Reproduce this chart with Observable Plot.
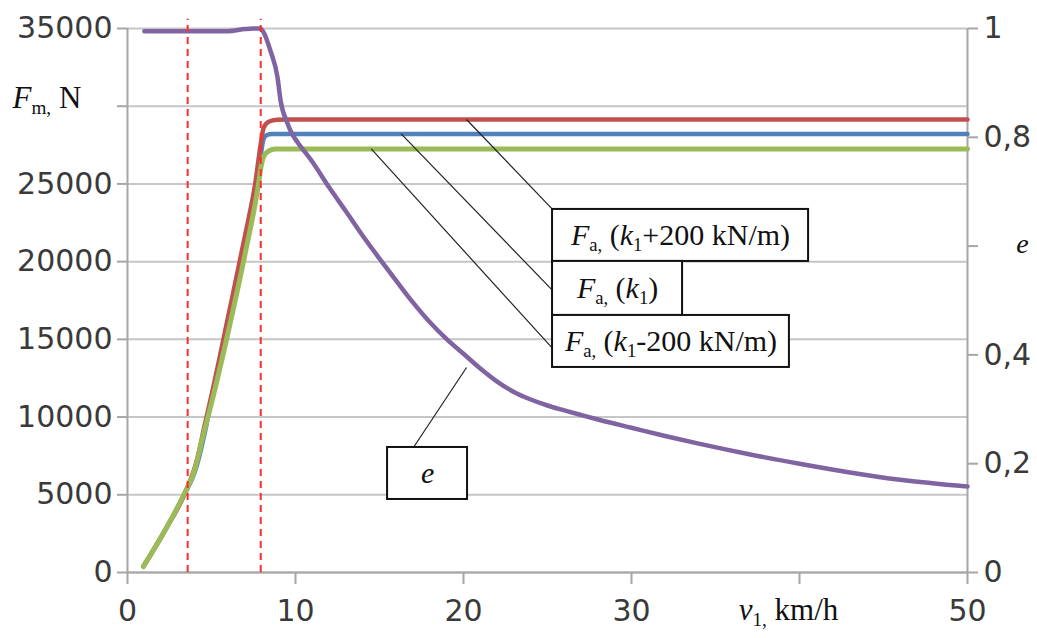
<!DOCTYPE html>
<html>
<head>
<meta charset="utf-8">
<script src="https://cdn.jsdelivr.net/npm/d3@7"></script>
<script src="https://cdn.jsdelivr.net/npm/@observablehq/plot@0.6"></script>
<style>
  html, body { margin: 0; padding: 0; background: #ffffff; }
  #chart svg { display: block; overflow: visible; }
</style>
</head>
<body>
<div id="chart"></div>
<script>
// ---------- data ----------
// Fa with k1 + 200 kN/m (red)
const speedRed = [0.95, 2.2, 3.4, 4.1, 4.6, 5.0, 6.0, 7.0, 7.6, 7.95, 8.1, 8.4, 8.9, 9.5, 50];
const forceRed = [400, 2650, 5050, 7100, 9500, 11400, 16500, 21700, 25000, 27700, 28600, 29000, 29130, 29144, 29144];
// Fa with k1 (blue)
const speedBlue = [0.95, 2.2, 3.37, 4.05, 4.55, 5.0, 6.0, 7.0, 7.7, 7.95, 8.1, 8.3, 8.6, 50];
const forceBlue = [390, 2650, 5000, 6600, 8750, 11150, 16000, 21100, 25050, 27000, 27900, 28150, 28217, 28217];
// Fa with k1 - 200 kN/m (green)
const speedGreen = [0.95, 2.2, 3.33, 4.0, 4.5, 5.0, 6.0, 7.0, 7.8, 7.95, 8.1, 8.4, 8.8, 9.4, 50];
const forceGreen = [386, 2650, 4955, 6600, 8800, 10900, 15500, 20500, 25000, 26100, 26750, 27120, 27240, 27252, 27252];
// e (purple, right axis)
const speedE = [1.0, 3, 6.0, 7.0, 7.5, 7.9, 8.1, 8.5, 8.93, 9.11, 9.52, 9.8, 10.1, 11, 12, 13, 14, 15, 16, 17, 18, 19, 20, 21, 22, 23, 24, 25, 26, 27, 28, 30, 32, 34, 37, 40, 43, 46, 50];
const valueE = [0.995, 0.995, 0.995, 0.999, 1.0, 1.0, 0.993, 0.96, 0.91, 0.868, 0.826, 0.806, 0.792, 0.755, 0.708, 0.664, 0.619, 0.577, 0.536, 0.496, 0.460, 0.429, 0.402, 0.375, 0.351, 0.332, 0.318, 0.307, 0.298, 0.2895, 0.2812, 0.266, 0.251, 0.237, 0.2175, 0.200, 0.184, 0.1705, 0.158];

// red dashed reference speeds
const dashedSpeeds = [3.58, 7.93];

// axes
const forceMax = 35000;
const eMax = 1;
const forceTicks = [0, 5000, 10000, 15000, 20000, 25000, 30000, 35000];
const forceTickLabels = ["0", "5000", "10000", "15000", "20000", "25000", "", "35000"];
const speedTicks = [0, 10, 20, 30, 40, 50];
const speedTickLabels = ["0", "10", "20", "30", "", "50"];
const eTicks = [0, 0.2, 0.4, 0.6, 0.8, 1];
const eTickLabels = ["0", "0,2", "0,4", "", "0,8", "1"];

// titles (markup: *italic*, _{subscript})
const leftTitle = "*F*_{m,} N";
const rightTitle = "*e*";
const bottomTitle = "*v*_{1,} km/h";

// annotation boxes and leader lines
const annoLabels = ["*F*_{a,} (*k*_{1}+200 kN/m)", "*F*_{a,} (*k*_{1})", "*F*_{a,} (*k*_{1}-200 kN/m)", "*e*"];
const annoBoxX1 = [25.3, 25.3, 25.3, 15.48];
const annoBoxX2 = [40.54, 33.04, 39.40, 20.24];
const annoBoxY1 = [20013, 16538, 13192, 4698];
const annoBoxY2 = [23359, 20013, 16538, 8044];
const leaderFromX = [20.18, 16.29, 14.51, 20.18];
const leaderFromY = [29144, 28217, 27252, 13192];
const leaderToX = [25.3, 25.3, 25.3, 17.02];
const leaderToY = [23359, 18147, 14414, 8044];

// ---------- tables ----------
const toRows = (xs, ys) => xs.map((x, i) => ({x, y: ys[i]}));
const redRows = toRows(speedRed, forceRed);
const blueRows = toRows(speedBlue, forceBlue);
const greenRows = toRows(speedGreen, forceGreen);
const eRows = speedE.map((x, i) => ({x, y: valueE[i] / eMax * forceMax}));
const annos = annoLabels.map((label, i) => ({
  label, x1: annoBoxX1[i], x2: annoBoxX2[i], y1: annoBoxY1[i], y2: annoBoxY2[i],
  fx: leaderFromX[i], fy: leaderFromY[i], tx: leaderToX[i], ty: leaderToY[i]
}));

const gridColor = "#c6c6c6";
const axisColor = "#a6a6a6";
const labelColor = "#3a3a3a";
const serif = "'Liberation Serif', 'Times New Roman', serif";
const sans = "'DejaVu Sans', sans-serif";

const chart = Plot.plot({
  width: 1037,
  height: 638,
  marginLeft: 127,
  marginRight: 70,
  marginTop: 28,
  marginBottom: 66,
  style: {background: "#ffffff", overflow: "visible"},
  x: {domain: [0, 50]},
  y: {domain: [0, forceMax]},
  marks: [
    Plot.gridY(forceTicks, {stroke: gridColor, strokeOpacity: 1, strokeWidth: 2}),
    Plot.ruleX([0, 50], {stroke: axisColor, strokeWidth: 2}),
    Plot.ruleY([0], {stroke: axisColor, strokeWidth: 2}),
    Plot.axisY(forceTicks, {
      anchor: "left", tickSize: 10, tickPadding: 5, label: null,
      tickFormat: d => forceTickLabels[forceTicks.indexOf(d)],
      stroke: axisColor, strokeWidth: 2, fill: labelColor, fontSize: 30, fontFamily: sans
    }),
    Plot.axisY(eTicks.map(e => e / eMax * forceMax), {
      anchor: "right", tickSize: 10, tickPadding: 6, label: null,
      tickFormat: d => eTickLabels[eTicks.findIndex(e => Math.abs(e / eMax * forceMax - d) < 1e-6)],
      stroke: axisColor, strokeWidth: 2, fill: labelColor, fontSize: 30, fontFamily: sans
    }),
    Plot.axisX(speedTicks, {
      anchor: "bottom", tickSize: 12, tickPadding: 15, label: null,
      tickFormat: d => speedTickLabels[speedTicks.indexOf(d)],
      stroke: axisColor, strokeWidth: 2, fill: labelColor, fontSize: 30, fontFamily: sans
    }),
    Plot.line(blueRows, {x: "x", y: "y", stroke: "#4f81bd", strokeWidth: 4.5, curve: "monotone-x"}),
    Plot.line(redRows, {x: "x", y: "y", stroke: "#c0504d", strokeWidth: 4.5, curve: "monotone-x"}),
    Plot.line(greenRows, {x: "x", y: "y", stroke: "#9bbb59", strokeWidth: 5, curve: "monotone-x"}),
    Plot.line(eRows, {x: "x", y: "y", stroke: "#8064a2", strokeWidth: 4.5, curve: "monotone-x"}),
    Plot.ruleX(dashedSpeeds, {y1: 0, y2: forceMax + 600, stroke: "#ff2a2a", strokeWidth: 2, strokeDasharray: "7,5"}),
    Plot.link(annos, {x1: "fx", y1: "fy", x2: "tx", y2: "ty", stroke: "#222222", strokeWidth: 1.2}),
    Plot.rect(annos, {x1: "x1", x2: "x2", y1: "y1", y2: "y2", fill: "#ffffff", stroke: "#111111", strokeWidth: 2}),
    Plot.text(annos, {x: d => (d.x1 + d.x2) / 2, y: d => (d.y1 + d.y2) / 2, text: "label",
      fontFamily: serif, fontSize: 30, fill: "#111111"}),
    Plot.text([leftTitle], {frameAnchor: "top-left", dx: -115, dy: 57, textAnchor: "start",
      fontFamily: serif, fontSize: 31, fill: "#111111"}),
    Plot.text([rightTitle], {frameAnchor: "top-right", dx: 55, dy: 205, textAnchor: "middle",
      fontFamily: serif, fontSize: 28, fill: "#111111"}),
    Plot.text([bottomTitle], {frameAnchor: "bottom-right", dx: -179, dy: 47, textAnchor: "middle",
      fontFamily: serif, fontSize: 31, fill: "#111111"})
  ]
});

document.getElementById("chart").append(chart);

// turn *italic* and _{sub} markup into tspans
function richify(root) {
  d3.select(root).selectAll("text").each(function() {
    const t = this.textContent;
    if (!/[*_]/.test(t)) return;
    const fs = parseFloat(getComputedStyle(this).fontSize) || 24;
    const el = d3.select(this);
    el.text(null);
    const re = /\*([^*]+)\*|_\{([^}]+)\}|([^*_]+)/g;
    let m, shift = 0;
    while ((m = re.exec(t))) {
      const ts = el.append("tspan");
      let want = 0;
      if (m[1] !== undefined) {
        ts.text(m[1]).attr("font-style", "italic");
      } else if (m[2] !== undefined) {
        ts.text(m[2]).attr("font-size", fs * 0.62);
        want = fs * 0.2;
      } else {
        ts.text(m[3]);
      }
      if (want !== shift) { ts.attr("dy", want - shift); shift = want; }
    }
  });
}
richify(chart);
</script>
</body>
</html>
